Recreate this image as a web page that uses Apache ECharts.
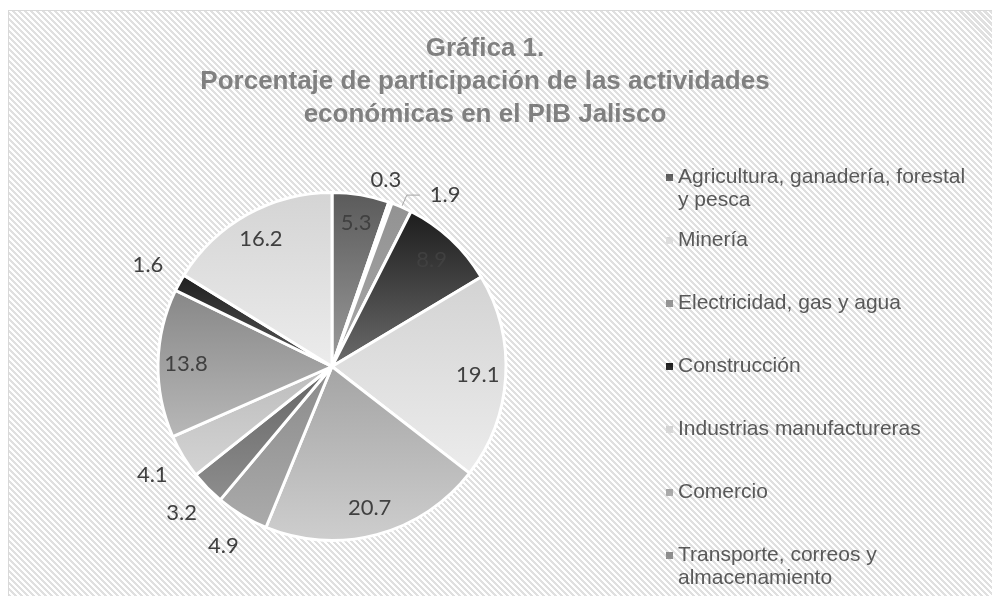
<!DOCTYPE html>
<html>
<head>
<meta charset="utf-8">
<script src="https://cdn.jsdelivr.net/npm/echarts@6/dist/echarts.min.js"></script>
<style>
  html, body { margin: 0; padding: 0; background: #ffffff; }
  #frame {
    position: absolute; left: 8px; top: 10px; width: 1000px; height: 600px;
    border: 1px solid #d9d9d9;
    background: repeating-linear-gradient(45deg, #ffffff 0px, #ffffff 2.1px, #e0e0e0 2.1px, #e0e0e0 4.24px);
  }
  #chart { position: absolute; left: 0; top: 0; width: 992px; height: 596px; }
</style>
</head>
<body>
<div id="frame"></div>
<div id="chart"></div>
<script>
// Sectors of the PIB of Jalisco (share, %)
const categories = [
  'Agricultura, ganadería, forestal y pesca',
  'Minería',
  'Electricidad, gas y agua',
  'Construcción',
  'Industrias manufactureras',
  'Comercio',
  'Transporte, correos y almacenamiento',
  'Información en medios masivos',
  'Servicios financieros y de seguros',
  'Servicios inmobiliarios y de alquiler',
  'Servicios educativos',
  'Otros servicios'
];
const shares = [5.3, 0.3, 1.9, 8.9, 19.1, 20.7, 4.9, 3.2, 4.1, 13.8, 1.6, 16.2];

// gray gradient of each slice, top -> bottom
const sliceTop = ['#5a5a5a', '#dadada', '#929292', '#1c1c1c', '#d3d3d3', '#a4a4a4', '#8a8a8a', '#646464', '#bcbcbc', '#878787', '#1e1e1e', '#d4d4d4'];
const sliceBottom = ['#9c9c9c', '#ececec', '#a8a8a8', '#6c6c6c', '#ececec', '#cecece', '#ababab', '#8e8e8e', '#d4d4d4', '#b8b8b8', '#5a5a5a', '#ececec'];

// where each value label sits: inside the slice, on the outer ring, or moved by hand
const labelPlace = ['inner', 'edge', 'line', 'inner', 'inner', 'inner', 'ring', 'ring', 'ring', 'inner', 'ring', 'inner'];

const legendWrap = {
  'Agricultura, ganadería, forestal y pesca': 'Agricultura, ganadería, forestal\ny pesca',
  'Transporte, correos y almacenamiento': 'Transporte, correos y\nalmacenamiento'
};

const chart = echarts.init(document.getElementById('chart'));

const center = [332, 366.5];
const labelFont = { formatter: '{c}', fontFamily: 'Lato', fontSize: 22, color: '#404040' };

const mainData = categories.map((name, i) => {
  const item = {
    name: name,
    value: shares[i],
    itemStyle: {
      color: new echarts.graphic.LinearGradient(0, 0, 0, 1, [
        { offset: 0, color: sliceTop[i] },
        { offset: 1, color: sliceBottom[i] }
      ])
    },
    label: { show: false },
    labelLine: { show: false }
  };
  if (labelPlace[i] === 'edge') {
    item.label = { show: true, position: 'outside', distanceToLabelLine: 5 };
    item.labelLine = { show: false, length: 24, length2: -33 };
  } else if (labelPlace[i] === 'line') {
    item.label = { show: true, position: 'outside', distanceToLabelLine: 10 };
    item.labelLine = { show: true, length: 13, length2: 13, lineStyle: { color: '#a6a6a6', width: 1 } };
  }
  return item;
});

function overlayData(kind) {
  return categories.map((name, i) => ({
    name: name,
    value: shares[i],
    label: { show: labelPlace[i] === kind }
  }));
}

const overlayBase = {
  type: 'pie',
  center: center,
  silent: true,
  avoidLabelOverlap: false,
  itemStyle: { color: 'rgba(0,0,0,0)', borderWidth: 0 },
  label: Object.assign({ position: 'inside' }, labelFont),
  labelLine: { show: false },
  emphasis: { disabled: true }
};

const option = {
  animation: false,
  title: {
    text: 'Gráfica 1.\nPorcentaje de participación de las actividades\neconómicas en el PIB Jalisco',
    left: 485,
    top: 32,
    padding: 0,
    textAlign: 'center',
    textStyle: {
      fontFamily: 'Liberation Sans',
      fontSize: 26,
      fontWeight: 'bold',
      color: '#808080',
      lineHeight: 33
    }
  },
  legend: {
    orient: 'vertical',
    left: 666,
    top: 166,
    height: 1200,
    padding: 0,
    itemGap: 17,
    itemWidth: 7,
    itemHeight: 30,
    icon: 'path://M0,0L7,0L7,7L0,7Z M0,30L7,30L7,30Z',
    itemStyle: { borderWidth: 0 },
    data: categories,
    formatter: name => legendWrap[name] || (name + '\n '),
    textStyle: {
      fontFamily: 'Liberation Sans',
      fontSize: 21,
      color: '#595959',
      lineHeight: 23
    }
  },
  series: [
    {
      type: 'pie',
      center: center,
      radius: 174,
      avoidLabelOverlap: false,
      itemStyle: { borderColor: '#ffffff', borderWidth: 3 },
      label: labelFont,
      emphasis: { disabled: true },
      data: mainData
    },
    Object.assign({}, overlayBase, { radius: [111, 175], data: overlayData('inner') }),
    Object.assign({}, overlayBase, { radius: [188, 226], data: overlayData('ring') })
  ]
};

chart.setOption(option);
</script>
</body>
</html>
